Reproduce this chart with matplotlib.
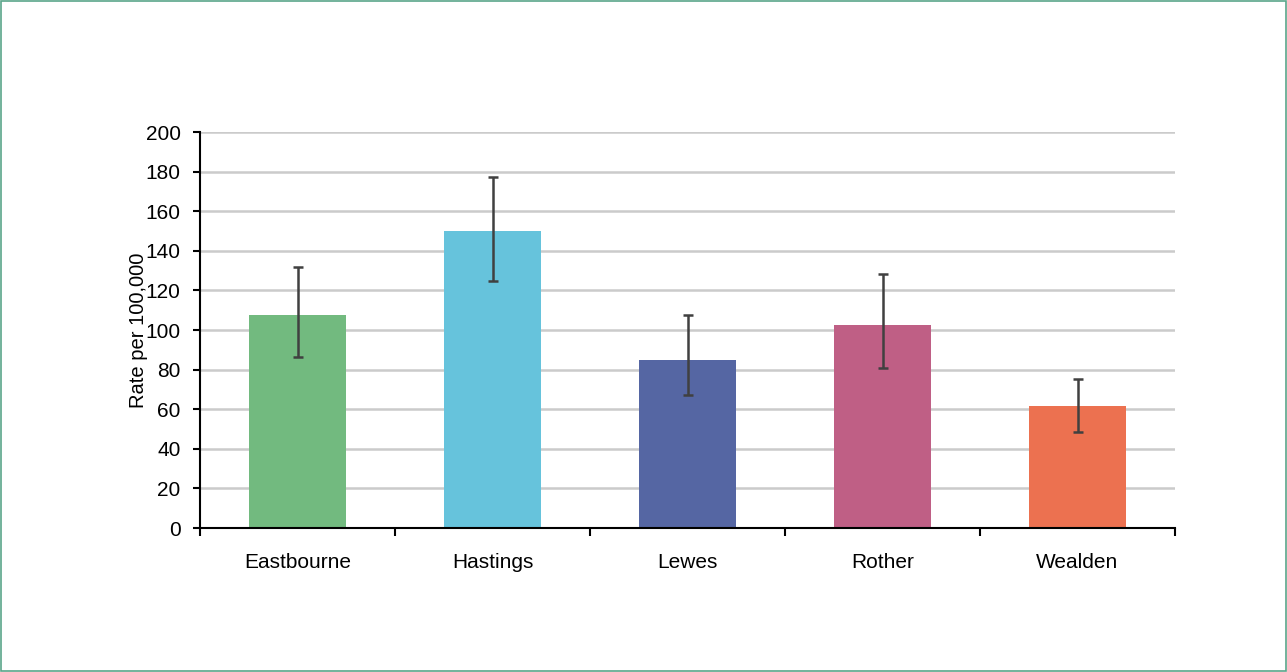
import numpy as np
import matplotlib.pyplot as plt
from matplotlib.patches import Rectangle

districts = ["Eastbourne", "Hastings", "Lewes", "Rother", "Wealden"]
rate = [107.5, 150.0, 85.0, 102.5, 61.5]
ci_upper = [132.0, 177.5, 107.5, 128.5, 75.5]
ci_lower = [86.5, 125.0, 67.0, 81.0, 48.5]
bar_colors = ["#72BA7F", "#66C3DC", "#5566A3", "#BF5F85", "#EC7150"]

plt.rcParams['font.family'] = ['Liberation Sans', 'DejaVu Sans']

fig = plt.figure(figsize=(12.87, 6.72), dpi=100)
ax = fig.add_axes([200 / 1287, 144 / 672, 975 / 1287, 396 / 672])

x = np.arange(len(districts))
rate = np.array(rate)
yerr = [rate - np.array(ci_lower), np.array(ci_upper) - rate]

ax.bar(x, rate, width=0.5, color=bar_colors, zorder=2)
ax.errorbar(x, rate, yerr=yerr, fmt='none', ecolor='#404040',
            elinewidth=1.8, capsize=3.8, capthick=1.8, zorder=3)

ax.set_xlim(-0.5, len(districts) - 0.5)
ax.set_ylim(0, 200)
ax.set_yticks(np.arange(0, 201, 20))
ax.set_xticks(x)
ax.set_xticklabels(districts)
ax.set_xticks(np.arange(-0.5, len(districts), 1), minor=True)

ax.grid(axis='y', color='#cbcbcb', linewidth=1.8, zorder=0)
ax.set_axisbelow(True)

for side in ['top', 'right']:
    ax.spines[side].set_visible(False)
for side in ['left', 'bottom']:
    ax.spines[side].set_linewidth(1.5)
    ax.spines[side].set_color('black')

ax.tick_params(axis='y', labelsize=15, length=5, width=1.5, pad=9)
ax.tick_params(axis='x', which='major', labelsize=15, length=0, pad=18)
ax.tick_params(axis='x', which='minor', length=6, width=1.5)

ax.set_ylabel("Rate per 100,000", fontsize=14.5, labelpad=-2)

fig.patches.append(Rectangle((0.0005, 0.001), 0.999, 0.998, transform=fig.transFigure,
                             fill=False, edgecolor='#5aa58a', linewidth=1.2))

fig.savefig("out.png", dpi=100)
